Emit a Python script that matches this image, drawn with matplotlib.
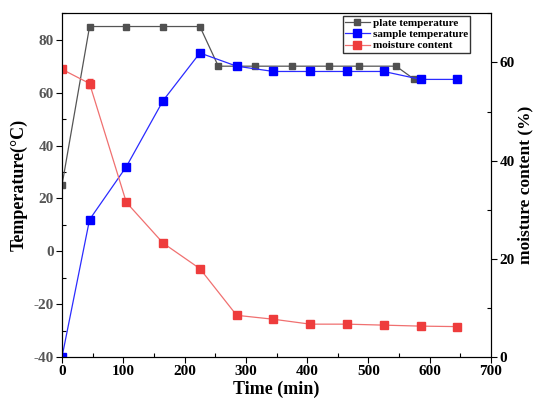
import matplotlib
matplotlib.use("Agg")
import matplotlib.pyplot as plt
from matplotlib.ticker import MultipleLocator

plt.rcParams['font.family'] = ['Liberation Serif', 'DejaVu Serif']
plt.rcParams['font.weight'] = 'bold'
plt.rcParams['axes.unicode_minus'] = False

plate_t = [0, 45, 105, 165, 225, 255, 315, 375, 435, 485, 545, 575]
plate_temp = [25, 85, 85, 85, 85, 70, 70, 70, 70, 70, 70, 65]

sample_t = [0, 45, 105, 165, 225, 285, 345, 405, 465, 525, 585, 645]
sample_temp = [-40, 12, 32, 57, 75, 70, 68, 68, 68, 68, 65, 65]

moist_t = [0, 45, 105, 165, 225, 285, 345, 405, 465, 525, 585, 645]
moisture = [58.6, 55.7, 31.5, 23.2, 18.0, 8.5, 7.7, 6.7, 6.7, 6.5, 6.3, 6.2]
moisture_err = [0.4, 1.0, 0.3, 0.3, 0.3, 0.2, 0.2, 0.2, 0.2, 0.2, 0.2, 0.2]


def main():
    fig = plt.figure(figsize=(5.33, 4.03), dpi=100)
    ax = fig.add_axes([0.1163, 0.114, 0.805, 0.853])
    ax2 = ax.twinx()

    l1, = ax.plot(plate_t, plate_temp, '-s', color='#555555', lw=0.9, ms=5,
                  mfc='#505050', mec='#505050', label='plate temperature', zorder=3)
    l2, = ax.plot(sample_t, sample_temp, '-s', color='#2b2bff', lw=0.9, ms=5.5,
                  mfc='#0000ff', mec='#0000ff', label='sample temperature', zorder=4)
    eb = ax2.errorbar(moist_t, moisture, yerr=moisture_err, fmt='-s', color='#f07070',
                      lw=0.9, ms=5.5, mfc='#ee3c3c', mec='#ee3c3c', ecolor='#ee3c3c',
                      capsize=2, elinewidth=0.8, label='moisture content')

    ax.set_xlim(0, 700)
    ax.set_ylim(-40, 90)
    ax2.set_ylim(0, 70)

    ax.xaxis.set_major_locator(MultipleLocator(100))
    ax.xaxis.set_minor_locator(MultipleLocator(50))
    ax.yaxis.set_major_locator(MultipleLocator(20))
    ax.yaxis.set_minor_locator(MultipleLocator(10))
    ax2.yaxis.set_major_locator(MultipleLocator(20))
    ax2.yaxis.set_minor_locator(MultipleLocator(10))

    for a in (ax, ax2):
        a.tick_params(which='major', direction='out', length=4, width=0.8, labelsize=11, pad=2)
        a.tick_params(which='minor', direction='in', length=3, width=0.8)
    for lab in ax.get_yticklabels():
        lab.set_color('#555555')
        lab.set_fontweight('bold')
    for lab in ax.get_xticklabels() + ax2.get_yticklabels():
        lab.set_fontweight('bold')

    ax.set_xlabel('Time (min)', fontsize=13, fontweight='bold', labelpad=2)
    ax.set_ylabel('Temperature(\u00b0C)', fontsize=13, fontweight='bold', labelpad=4)
    ax2.set_ylabel('moisture content (%)', fontsize=12.5, fontweight='bold',
                   rotation=90, labelpad=2)

    leg = ax.legend([l1, l2, eb[0]], ['plate temperature', 'sample temperature', 'moisture content'],
                    loc='upper right', bbox_to_anchor=(0.957, 1.0), fontsize=8, frameon=True,
                    fancybox=False, edgecolor='black', handlelength=2.2, handletextpad=0.3,
                    borderpad=0.2, labelspacing=0.15, borderaxespad=0.2)
    leg.get_frame().set_linewidth(1.0)
    for t in leg.get_texts():
        t.set_fontweight('bold')

    fig.savefig('out.png', dpi=100)


if __name__ == "__main__":
    main()
